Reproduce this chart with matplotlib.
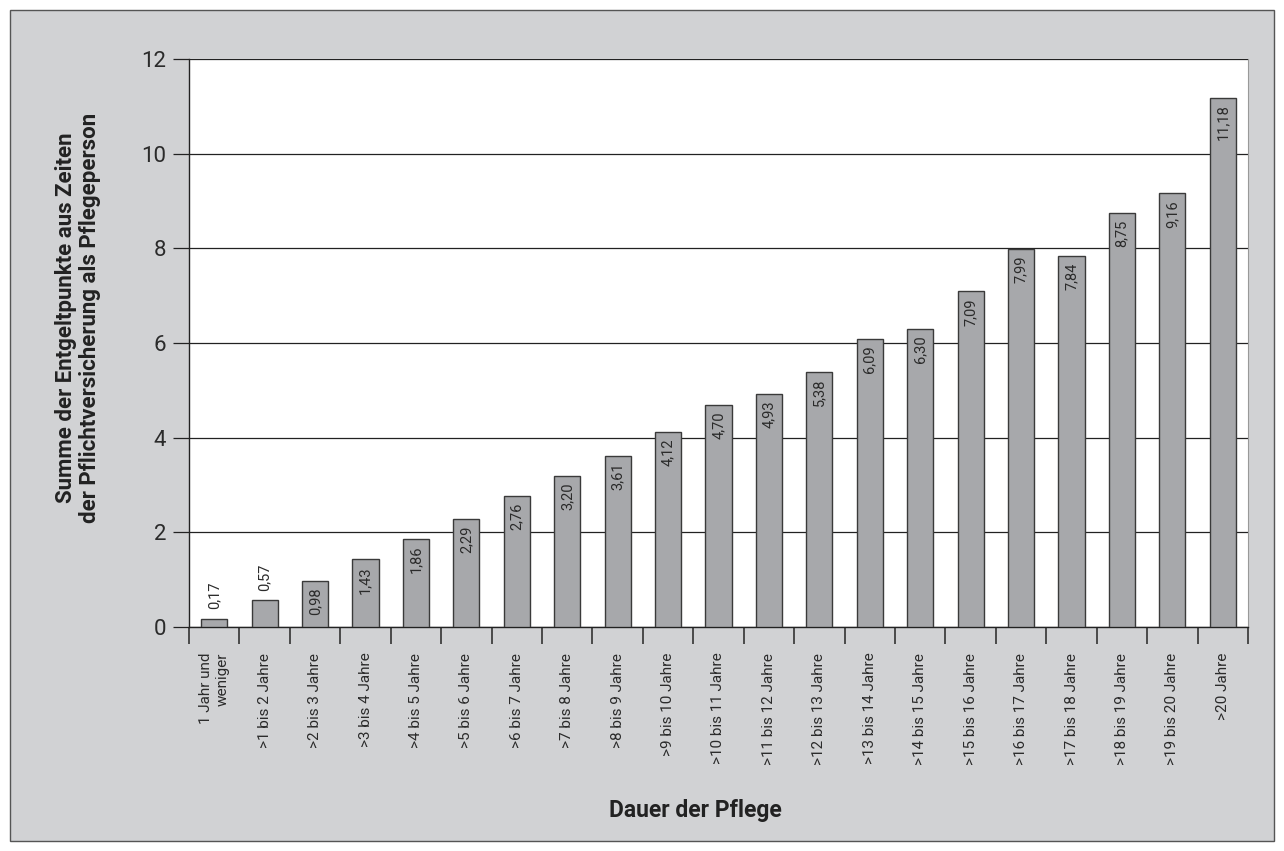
import numpy as np
import matplotlib
matplotlib.use('Agg')
import matplotlib.pyplot as plt
from matplotlib.patches import Rectangle

# data
categories = ['1 Jahr und\nweniger', '>1 bis 2 Jahre', '>2 bis 3 Jahre', '>3 bis 4 Jahre',
              '>4 bis 5 Jahre', '>5 bis 6 Jahre', '>6 bis 7 Jahre', '>7 bis 8 Jahre',
              '>8 bis 9 Jahre', '>9 bis 10 Jahre', '>10 bis 11 Jahre', '>11 bis 12 Jahre',
              '>12 bis 13 Jahre', '>13 bis 14 Jahre', '>14 bis 15 Jahre', '>15 bis 16 Jahre',
              '>16 bis 17 Jahre', '>17 bis 18 Jahre', '>18 bis 19 Jahre', '>19 bis 20 Jahre',
              '>20 Jahre']
values = [0.17, 0.57, 0.98, 1.43, 1.86, 2.29, 2.76, 3.20, 3.61, 4.12, 4.70,
          4.93, 5.38, 6.09, 6.30, 7.09, 7.99, 7.84, 8.75, 9.16, 11.18]
yticks = [0, 2, 4, 6, 8, 10, 12]

plt.rcParams['font.family'] = ['Roboto', 'DejaVu Sans']

bg = '#d1d2d4'
txtcol = '#2b2b2b'
fig = plt.figure(figsize=(12.84, 8.51), dpi=100, facecolor='white')
# grey panel with thin border, behind the axes
fig.patches.append(Rectangle((10 / 1284, 10 / 851), 1264 / 1284, 831 / 851,
                             transform=fig.transFigure, facecolor=bg,
                             edgecolor='#555555', linewidth=1, zorder=-10))

ax = fig.add_axes([189 / 1284, 1 - 627 / 851, (1248 - 189) / 1284, (627 - 59) / 851])
ax.set_zorder(1)
ax.set_facecolor('white')

x = np.arange(len(values))
ax.bar(x, values, width=0.52, color='#a7a8ab', edgecolor='#3a3a3a', linewidth=1, zorder=3)

for xi, v in zip(x, values):
    txt = f'{v:.2f}'.replace('.', ',')
    if v < 0.9:
        ax.text(xi, v + 0.2, txt, rotation=90, ha='center', va='bottom',
                fontsize=10.5, color=txtcol, zorder=4)
    else:
        ax.text(xi, v - 0.14, txt, rotation=90, ha='center', va='top',
                fontsize=10.5, color=txtcol, zorder=4)

ax.set_xlim(-0.5, len(values) - 0.5)
ax.set_ylim(0, 12)
ax.set_yticks(yticks)
ax.set_yticklabels([str(t) for t in yticks], fontsize=16, color=txtcol)
ax.yaxis.grid(True, color='#222222', linewidth=0.9, zorder=1)
ax.set_axisbelow(True)
ax.tick_params(axis='y', length=11.5, width=0.9, color='#222222', pad=5)

# category labels at bar centres, ticks between categories
ax.set_xticks(x)
ax.set_xticklabels(categories, rotation=90, fontsize=11, color=txtcol,
                   va='top', ha='center', multialignment='right')
ax.tick_params(axis='x', length=0, pad=18.5)
ax.set_xticks(np.arange(len(values) + 1) - 0.5, minor=True)
ax.tick_params(axis='x', which='minor', length=12, width=1.2, color='#333333')

ax.spines['top'].set_visible(False)
ax.spines['right'].set_color('#999999')
ax.spines['right'].set_linewidth(0.8)
ax.spines['left'].set_color('#222222')
ax.spines['bottom'].set_color('#222222')
ax.spines['left'].set_linewidth(1)
ax.spines['bottom'].set_linewidth(1)

fig.text(78 / 1284, 1 - 318 / 851,
         'Summe der Entgeltpunkte aus Zeiten\nder Pflichtversicherung als Pflegeperson',
         rotation=90, ha='center', va='center', multialignment='center',
         fontsize=16, fontweight='bold', color='#222222', linespacing=1.15)
fig.text(695 / 1284, 1 - 810 / 851, 'Dauer der Pflege', ha='center', va='center',
         fontsize=16.5, fontweight='bold', color='#222222')

fig.savefig('out.png', dpi=100, facecolor=fig.get_facecolor())
